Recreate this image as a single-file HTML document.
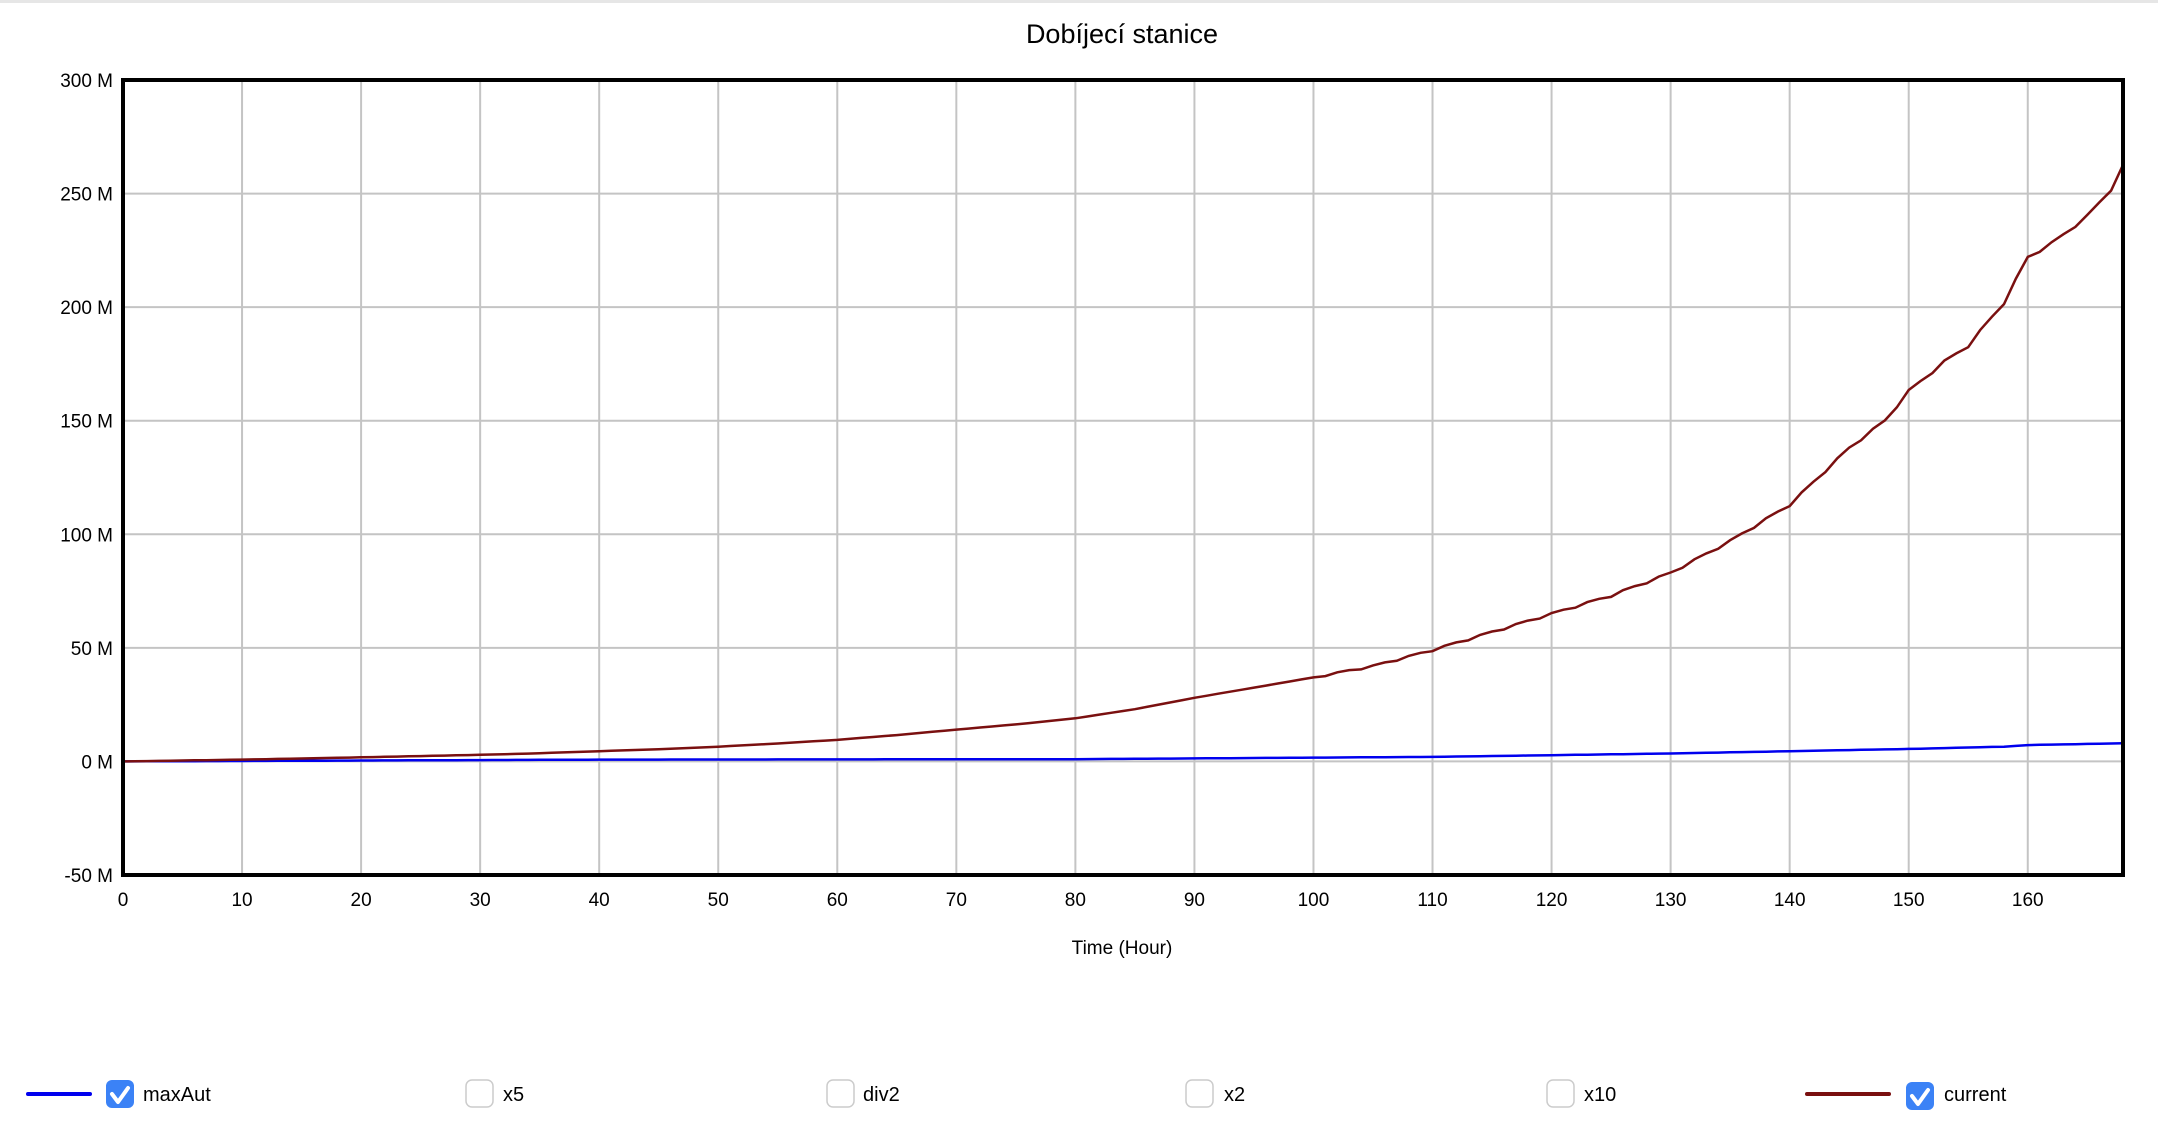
<!DOCTYPE html>
<html><head><meta charset="utf-8"><style>
body{margin:0;background:#fff;width:2158px;height:1118px;overflow:hidden;font-family:"Liberation Sans",sans-serif;}
</style></head><body>
<svg id="s" width="2158" height="1118" xmlns="http://www.w3.org/2000/svg" font-family="Liberation Sans, sans-serif">
<rect x="0" y="0" width="2158" height="3" fill="#e6e6e6"/>
<text x="1122" y="43" font-size="27" text-anchor="middle" fill="#000">Dobíjecí stanice</text>
<g id="grid" stroke="#c4c4c4" stroke-width="2"></g>
<g id="lbl" font-size="19" fill="#000"></g>
<polyline id="blue" fill="none" stroke="#0000ee" stroke-width="2.5"/>
<polyline id="red" fill="none" stroke="#7a1010" stroke-width="2.5"/>
<rect x="123" y="80" width="2000" height="795" fill="none" stroke="#000" stroke-width="4"/>
<text x="1122" y="954" font-size="19" text-anchor="middle">Time (Hour)</text>
<line x1="28" y1="1094" x2="90" y2="1094" stroke="#0000ee" stroke-width="4" stroke-linecap="round"/>
<rect x="106" y="1080" width="28" height="28" rx="6" fill="#3b82f6"/>
<path d="M112 1094 l6 8 l10 -14" fill="none" stroke="#fff" stroke-width="4" stroke-linecap="round" stroke-linejoin="round"/>
<text x="143" y="1101" font-size="20">maxAut</text>
<rect x="466" y="1080" width="27" height="27" rx="6" fill="#fff" stroke="#ccc" stroke-width="1.5"/>
<text x="503" y="1101" font-size="20">x5</text>
<rect x="827" y="1080" width="27" height="27" rx="6" fill="#fff" stroke="#ccc" stroke-width="1.5"/>
<text x="863" y="1101" font-size="20">div2</text>
<rect x="1186" y="1080" width="27" height="27" rx="6" fill="#fff" stroke="#ccc" stroke-width="1.5"/>
<text x="1224" y="1101" font-size="20">x2</text>
<rect x="1547" y="1080" width="27" height="27" rx="6" fill="#fff" stroke="#ccc" stroke-width="1.5"/>
<text x="1584" y="1101" font-size="20">x10</text>
<line x1="1807" y1="1094" x2="1889" y2="1094" stroke="#7a1010" stroke-width="4" stroke-linecap="round"/>
<rect x="1906" y="1082" width="28" height="28" rx="6" fill="#3b82f6"/>
<path d="M1912 1096 l6 8 l10 -14" fill="none" stroke="#fff" stroke-width="4" stroke-linecap="round" stroke-linejoin="round"/>
<text x="1944" y="1101" font-size="20">current</text>
</svg>
<script>
var NS="http://www.w3.org/2000/svg";
function X(t){return 123+t*2000/168;}
function Y(v){return 80+(300-v)*795/350;}
var g=document.getElementById('grid'),l=document.getElementById('lbl');
function el(p,tag,a,txt){var e=document.createElementNS(NS,tag);for(var k in a)e.setAttribute(k,a[k]);if(txt)e.textContent=txt;p.appendChild(e);}
for(var t=10;t<=160;t+=10)el(g,'line',{x1:X(t),y1:80,x2:X(t),y2:875});
for(var v=-50;v<=300;v+=50){if(v>-50&&v<300)el(g,'line',{x1:123,y1:Y(v),x2:2123,y2:Y(v)});
el(l,'text',{x:113,y:Y(v)+7,'text-anchor':'end'},v+' M');}
for(var t=0;t<=160;t+=10)el(l,'text',{x:X(t),y:906,'text-anchor':'middle'},''+t);
var rk=[[0,0],[10,0.8],[20,1.8],[30,2.9],[35,3.6],[40,4.5],[45,5.4],[50,6.5],[55,7.9],[60,9.5],[65,11.6],[70,14],[75,16.3],[80,19],[85,23],[90,28],[95,32.5],[100,37],[105,42],[110,49],[115,57],[120,65],[125,73],[130,83],[135,97],[140,113],[145,138],[148,150],[150,163],[153,176],[155,183],[158,202],[160,222],[162,228],[165,240],[167,252],[168,262]];
var bk=[[0,0],[40,0.8],[80,1],[110,2],[130,3.5],[150,5.5],[158,6.5],[160,7.2],[168,8]];
function interp(k,t){for(var i=1;i<k.length;i++)if(t<=k[i][0]){var a=k[i-1],b=k[i];return a[1]+(b[1]-a[1])*(t-a[0])/(b[0]-a[0]);}return k[k.length-1][1];}
var rp=[],bp=[];
for(var t=0;t<=168;t+=1){var w=t>100?Math.sin(t*2.1)*0.45*t/100:0;rp.push(X(t).toFixed(1)+','+Y(interp(rk,t)+w).toFixed(1));bp.push(X(t).toFixed(1)+','+Y(interp(bk,t)).toFixed(1));}
document.getElementById('red').setAttribute('points',rp.join(' '));
document.getElementById('blue').setAttribute('points',bp.join(' '));
</script>
</body></html>
